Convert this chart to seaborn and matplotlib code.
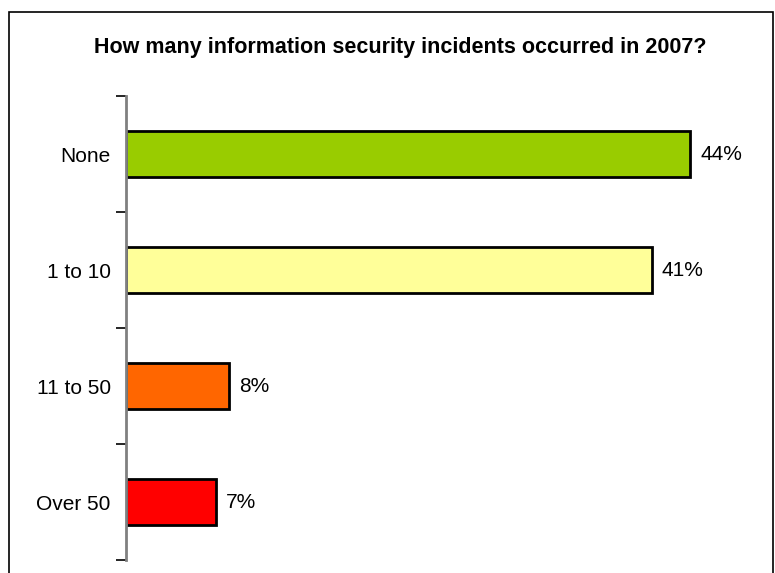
import matplotlib
matplotlib.use("Agg")
import matplotlib.pyplot as plt
from matplotlib.patches import Rectangle
import seaborn as sns
import pandas as pd

categories = ["None", "1 to 10", "11 to 50", "Over 50"]
shares = [44, 41, 8, 7]
bar_colors = ["#99CC00", "#FFFF99", "#FF6600", "#FF0000"]
title = "How many information security incidents occurred in 2007?"

sns.set_theme(style="white")
plt.rcParams["font.family"] = ["Liberation Sans", "DejaVu Sans"]

df = pd.DataFrame({"category": categories, "share": shares})

W, H = 775, 573
fig = plt.figure(figsize=(W / 100, H / 100), dpi=100)
fig.patch.set_facecolor("white")

# plot area in pixel terms
left, right, top, bottom = 126, 767, 96, 560
ax = fig.add_axes([left / W, 1 - bottom / H, (right - left) / W, (bottom - top) / H])

sns.barplot(data=df, y="category", x="share", hue="category", palette=bar_colors,
            order=categories, hue_order=categories, legend=False, width=0.4,
            saturation=1, edgecolor="black", linewidth=2, ax=ax)

ax.set_xlim(0, 50)
ax.set_ylim(len(categories) - 0.5, -0.5)

for i, v in enumerate(shares):
    ax.text(v + 0.8, i, f"{v}%", va="center", ha="left", fontsize=15, color="black")

for s in ["top", "right", "bottom"]:
    ax.spines[s].set_visible(False)
ax.spines["left"].set_color("#808080")
ax.spines["left"].set_linewidth(2)

ax.set_xticks([])
ax.set_xlabel("")
ax.set_ylabel("")
ax.set_yticks(range(len(categories)))
ax.set_yticklabels(categories, fontsize=15, color="black")
ax.tick_params(axis="y", which="major", length=0, pad=11)
ax.set_yticks([i - 0.5 for i in range(len(categories) + 1)], minor=True)
ax.tick_params(axis="y", which="minor", length=7, width=1.2, color="black", left=True)

fig.text(400 / W, 1 - 47 / H, title, ha="center", va="center",
         fontsize=15.5, fontweight="bold", color="black")

# outer frame, open at the bottom edge
fig.add_artist(Rectangle((9 / W, -0.05), (773 - 9) / W, 1 - 12 / H + 0.05,
                         transform=fig.transFigure, fill=False,
                         edgecolor="black", linewidth=1.2, clip_on=False))

fig.savefig("out.png", dpi=100, facecolor="white")
